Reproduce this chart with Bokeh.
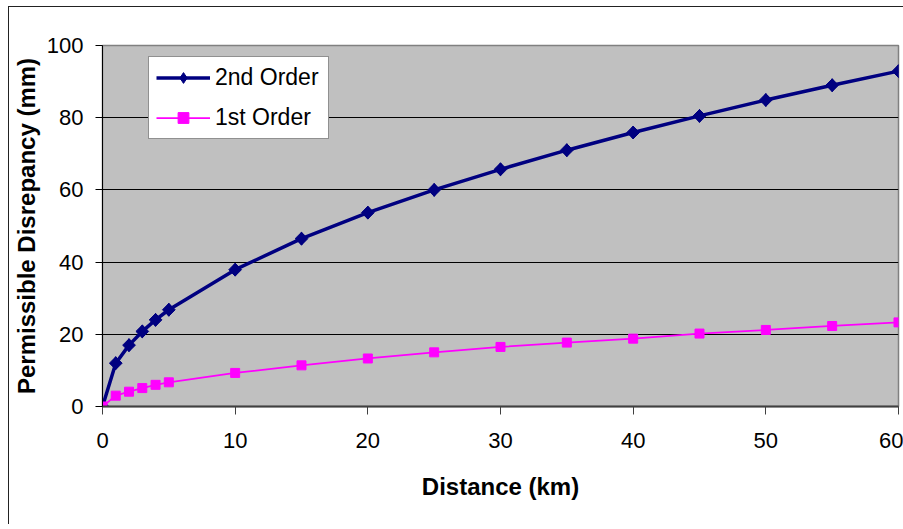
import math
from bokeh.plotting import figure
from bokeh.models import Range1d, FixedTicker, Legend, LegendItem
from bokeh.embed import file_html
from bokeh.resources import INLINE

distance_km = [0, 1, 2, 3, 4, 5, 10, 15, 20, 25, 30, 35, 40, 45, 50, 55, 60]
second_order = [0, 12.0, 17.0, 20.8, 24.0, 26.8, 37.9, 46.5, 53.7, 60.0, 65.7, 71.0, 75.9, 80.5, 84.9, 89.0, 92.9]
first_order = [0, 3.0, 4.1, 5.1, 6.0, 6.7, 9.3, 11.4, 13.3, 15.0, 16.5, 17.7, 18.8, 20.2, 21.2, 22.3, 23.3]
x_ticks = [0, 10, 20, 30, 40, 50, 60]
y_ticks = [0, 20, 40, 60, 80, 100]

FONT = "Liberation Sans"
NAVY = "#000080"
MAGENTA = "#FF00FF"

p = figure(frame_width=796, frame_height=361,
           min_border_left=93, min_border_top=38, min_border_right=5, min_border_bottom=118,
           x_range=Range1d(0, 60), y_range=Range1d(0, 100),
           output_backend="svg", toolbar_location=None)
p.styles = {"border-left": "1px solid #222222", "border-top": "1px solid #222222",
            "margin-left": "8px", "margin-top": "6px"}

p.background_fill_color = "#C0C0C0"
p.border_fill_color = "white"
p.outline_line_color = "#808080"
p.outline_line_width = 1.5

p.xgrid.grid_line_color = None
p.ygrid.grid_line_color = "#000000"
p.ygrid.grid_line_width = 1

p.xaxis.ticker = FixedTicker(ticks=x_ticks)
p.yaxis.ticker = FixedTicker(ticks=y_ticks)
for ax in (p.xaxis, p.yaxis):
    ax.minor_tick_line_color = None
    ax.major_tick_in = 0
    ax.major_label_text_font = FONT
    ax.major_label_text_font_size = "22px"
    ax.major_label_text_color = "#000000"
    ax.axis_label_text_font = FONT
    ax.axis_label_text_font_size = "24px"
    ax.axis_label_text_font_style = "bold"
    ax.axis_label_text_color = "#000000"

p.xaxis.axis_label = "Distance (km)"
p.yaxis.axis_label = "Permissible Disrepancy (mm)"
p.xaxis.axis_line_color = "#404040"
p.xaxis.axis_line_width = 2
p.xaxis.major_tick_line_color = "#404040"
p.xaxis.major_tick_out = 8
p.xaxis.major_label_standoff = 18
p.xaxis.axis_label_standoff = 22
p.yaxis.axis_line_color = "#000000"
p.yaxis.major_tick_line_color = "#000000"
p.yaxis.major_tick_out = 7
p.yaxis.major_label_standoff = 12
p.yaxis.axis_label_standoff = 4

l2 = p.line(distance_km, second_order, line_color=NAVY, line_width=3.5)
d2 = p.scatter(distance_km, second_order, marker="diamond", size=13,
               fill_color=NAVY, line_color=NAVY)
p.scatter(distance_km, second_order, marker="square", angle=math.pi / 4, size=9,
          fill_color=NAVY, line_color=NAVY)
l1 = p.line(distance_km, first_order, line_color=MAGENTA, line_width=1.75)
s1 = p.scatter(distance_km, first_order, marker="square", size=9,
               fill_color=MAGENTA, line_color=MAGENTA)

legend = Legend(items=[LegendItem(label="2nd Order", renderers=[l2, d2]),
                       LegendItem(label="1st Order", renderers=[l1, s1])],
                location=(46, 267))
legend.label_text_font = FONT
legend.label_text_font_size = "23px"
legend.label_text_color = "#000000"
legend.glyph_width = 54
legend.glyph_height = 27
legend.label_height = 27
legend.label_width = 106
legend.label_standoff = 5
legend.spacing = 13
legend.padding = 7
legend.margin = 0
legend.border_line_color = "#222222"
legend.border_line_width = 1
legend.background_fill_color = "white"
legend.background_fill_alpha = 1.0
p.add_layout(legend)

open("out.html", "w").write(file_html(p, INLINE))
